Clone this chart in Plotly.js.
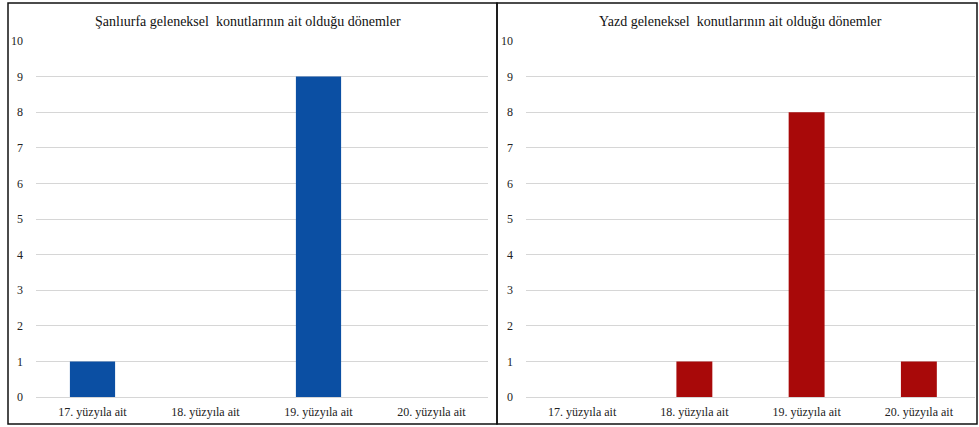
<!DOCTYPE html>
<html>
<head>
<meta charset="utf-8">
<script src="https://cdn.plot.ly/plotly-3.0.1.min.js"></script>
<style>html,body{margin:0;padding:0;background:#fff;}#chart{width:979px;height:427px;}</style>
</head>
<body>
<div id="chart"></div>
<script>
const categories = ["17. yüzyıla ait", "18. yüzyıla ait", "19. yüzyıla ait", "20. yüzyıla ait"];
const sanliurfaValues = [1, 0, 9, 0];
const yazdValues = [0, 1, 8, 1];
const yTicks = [0, 1, 2, 3, 4, 5, 6, 7, 8, 9, 10];
const leftTitle = "Şanlıurfa geleneksel  konutlarının ait olduğu dönemler";
const rightTitle = "Yazd geleneksel  konutlarının ait olduğu dönemler";

const W = 979, H = 427;
const px = v => v / W;
const py = v => 1 - v / H;
const serif = "Liberation Serif";

const traces = [
  {type: 'bar', x: categories, y: sanliurfaValues, xaxis: 'x', yaxis: 'y', width: 0.4,
   marker: {color: '#0b4fa3', line: {color: '#083b7d', width: 0}}, hoverinfo: 'x+y'},
  {type: 'bar', x: categories, y: yazdValues, xaxis: 'x2', yaxis: 'y2', width: 0.32,
   marker: {color: '#a80909', line: {color: '#7a0505', width: 0}}, hoverinfo: 'x+y'}
];

const yBase = {range: [0, 10], tickvals: yTicks, showgrid: true, gridcolor: '#d6d6d6', gridwidth: 1,
  zeroline: false, showline: false, ticks: '', ticklabelstandoff: 12, fixedrange: true,
  tickfont: {family: serif, size: 12, color: '#222'}};
const xBase = {type: 'category', showgrid: false, zeroline: false, showline: true, linecolor: '#d6d6d6',
  linewidth: 1, ticks: '', ticklabelstandoff: 4, fixedrange: true,
  tickfont: {family: serif, size: 12, color: '#222'}};

const layout = {
  width: W, height: H, margin: {l: 0, r: 0, t: 0, b: 0}, showlegend: false,
  paper_bgcolor: '#fff', plot_bgcolor: '#fff',
  font: {family: serif},
  xaxis: Object.assign({}, xBase, {domain: [px(36), px(488)], anchor: 'y'}),
  yaxis: Object.assign({}, yBase, {domain: [1 - 397 / H, 1 - 41 / H], anchor: 'x'}),
  xaxis2: Object.assign({}, xBase, {domain: [px(526), px(975)], anchor: 'y2'}),
  yaxis2: Object.assign({}, yBase, {domain: [1 - 397 / H, 1 - 41 / H], anchor: 'x2'}),
  annotations: [
    {text: leftTitle, xref: 'paper', yref: 'paper', x: px(248), y: py(21), showarrow: false,
     xanchor: 'center', yanchor: 'middle', font: {family: serif, size: 14, color: '#111'}},
    {text: rightTitle, xref: 'paper', yref: 'paper', x: px(740), y: py(21), showarrow: false,
     xanchor: 'center', yanchor: 'middle', font: {family: serif, size: 14, color: '#111'}}
  ],
  shapes: [
    {type: 'rect', xref: 'paper', yref: 'paper', x0: px(8), x1: px(497), y0: py(424), y1: py(3),
     line: {color: '#111', width: 1.5}},
    {type: 'rect', xref: 'paper', yref: 'paper', x0: px(497), x1: px(977), y0: py(424), y1: py(3),
     line: {color: '#111', width: 1.5}}
  ]
};

Plotly.newPlot('chart', traces, layout, {displayModeBar: false, staticPlot: true});
</script>
</body>
</html>
